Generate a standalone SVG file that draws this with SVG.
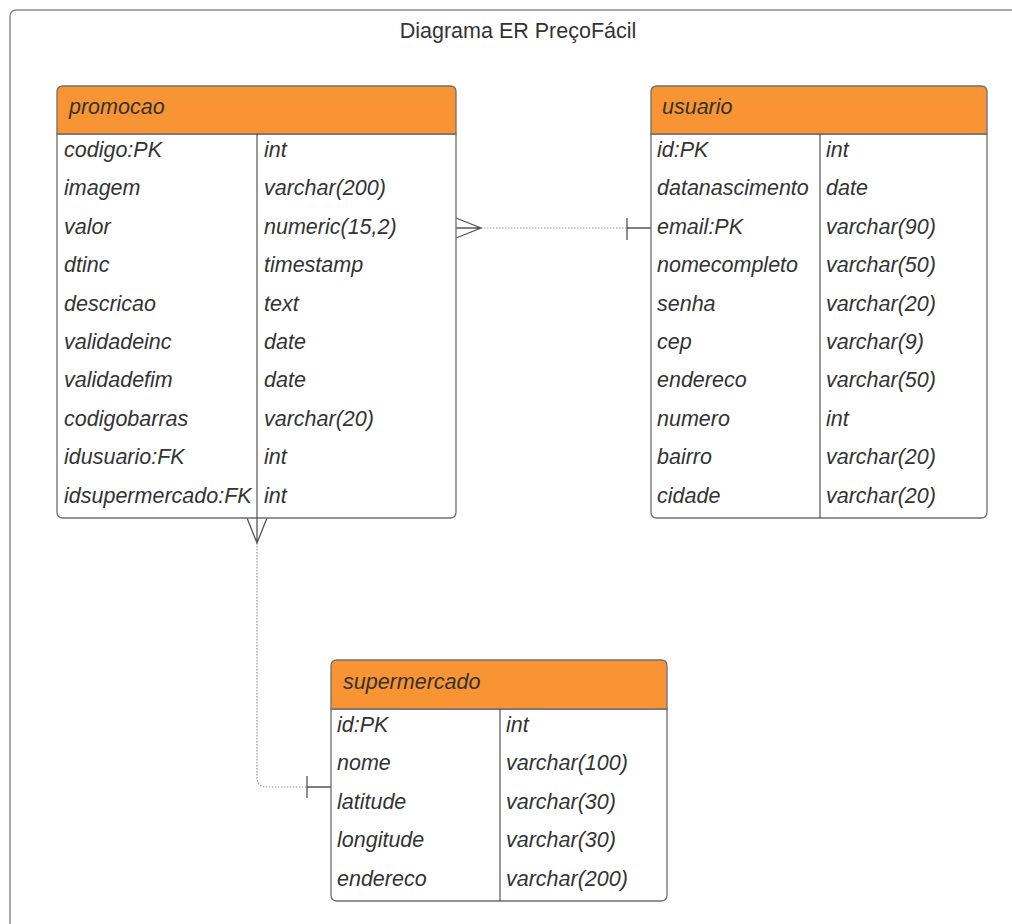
<svg xmlns="http://www.w3.org/2000/svg" width="1012" height="924" viewBox="0 0 1012 924">
<defs>
<style>
.frame{fill:#fff;stroke:#8a8a8a;stroke-width:1.5}
.box{fill:#fff;stroke:#6f6f6f;stroke-width:1.3}
.hdr{fill:#f89433;stroke:#6f6f6f;stroke-width:1.3}
.sep{stroke:#333;stroke-width:1}
.t{font-family:"Liberation Sans",Arial,sans-serif;font-size:21.5px;font-style:italic;fill:#333}
.title{font-family:"Liberation Sans",Arial,sans-serif;font-size:21.5px;fill:#333}
.solid{fill:none;stroke:#555;stroke-width:1.3}
.dot{fill:none;stroke:#999;stroke-width:1.2;stroke-dasharray:1.5 1.5}
</style>
</defs>
<rect class="frame" x="10" y="10" width="1010" height="924" rx="6"/>
<text class="title" x="518" y="38" text-anchor="middle">Diagrama ER PreçoFácil</text>

<g id="connectors">
<path class="dot" d="M481 228 H627"/>
<path class="solid" d="M456 218 L481 228 L456 238 M456 228 H481"/>
<path class="solid" d="M627 218 V240 M627 228 H651"/>
<path class="dot" d="M257 543 V777 Q257 787 267 787 H307"/>
<path class="solid" d="M247 518 L257 543 L267 518 M257 518 V543"/>
<path class="solid" d="M307 776 V798 M307 787 H331"/>
</g>

<g id="promocao">
<path class="box" d="M57 134 H456 V512 Q456 518 450 518 H63 Q57 518 57 512 Z"/>
<path class="hdr" d="M63 86 H450 Q456 86 456 92 V134 H57 V92 Q57 86 63 86 Z"/>
<line class="sep" x1="257" y1="134" x2="257" y2="518"/>
<text class="t" x="69" y="114">promocao</text>
<g class="t">
<text x="64" y="157">codigo:PK</text><text x="264" y="157">int</text>
<text x="64" y="195.4">imagem</text><text x="264" y="195.4">varchar(200)</text>
<text x="64" y="233.8">valor</text><text x="264" y="233.8">numeric(15,2)</text>
<text x="64" y="272.2">dtinc</text><text x="264" y="272.2">timestamp</text>
<text x="64" y="310.6">descricao</text><text x="264" y="310.6">text</text>
<text x="64" y="349">validadeinc</text><text x="264" y="349">date</text>
<text x="64" y="387.4">validadefim</text><text x="264" y="387.4">date</text>
<text x="64" y="425.8">codigobarras</text><text x="264" y="425.8">varchar(20)</text>
<text x="64" y="464.2">idusuario:FK</text><text x="264" y="464.2">int</text>
<text x="64" y="502.6">idsupermercado:FK</text><text x="264" y="502.6">int</text>
</g>
</g>

<g id="usuario">
<path class="box" d="M651 134 H987 V512 Q987 518 981 518 H657 Q651 518 651 512 Z"/>
<path class="hdr" d="M657 86 H981 Q987 86 987 92 V134 H651 V92 Q651 86 657 86 Z"/>
<line class="sep" x1="820" y1="134" x2="820" y2="518"/>
<text class="t" x="662" y="114">usuario</text>
<g class="t">
<text x="657" y="157">id:PK</text><text x="826" y="157">int</text>
<text x="657" y="195.4">datanascimento</text><text x="826" y="195.4">date</text>
<text x="657" y="233.8">email:PK</text><text x="826" y="233.8">varchar(90)</text>
<text x="657" y="272.2">nomecompleto</text><text x="826" y="272.2">varchar(50)</text>
<text x="657" y="310.6">senha</text><text x="826" y="310.6">varchar(20)</text>
<text x="657" y="349">cep</text><text x="826" y="349">varchar(9)</text>
<text x="657" y="387.4">endereco</text><text x="826" y="387.4">varchar(50)</text>
<text x="657" y="425.8">numero</text><text x="826" y="425.8">int</text>
<text x="657" y="464.2">bairro</text><text x="826" y="464.2">varchar(20)</text>
<text x="657" y="502.6">cidade</text><text x="826" y="502.6">varchar(20)</text>
</g>
</g>

<g id="supermercado">
<path class="box" d="M331 709 H667 V895 Q667 901 661 901 H337 Q331 901 331 895 Z"/>
<path class="hdr" d="M337 660 H661 Q667 660 667 666 V709 H331 V666 Q331 660 337 660 Z"/>
<line class="sep" x1="500" y1="709" x2="500" y2="901"/>
<text class="t" x="343" y="689">supermercado</text>
<g class="t">
<text x="337" y="732">id:PK</text><text x="506" y="732">int</text>
<text x="337" y="770.4">nome</text><text x="506" y="770.4">varchar(100)</text>
<text x="337" y="808.8">latitude</text><text x="506" y="808.8">varchar(30)</text>
<text x="337" y="847.2">longitude</text><text x="506" y="847.2">varchar(30)</text>
<text x="337" y="885.6">endereco</text><text x="506" y="885.6">varchar(200)</text>
</g>
</g>
</svg>
